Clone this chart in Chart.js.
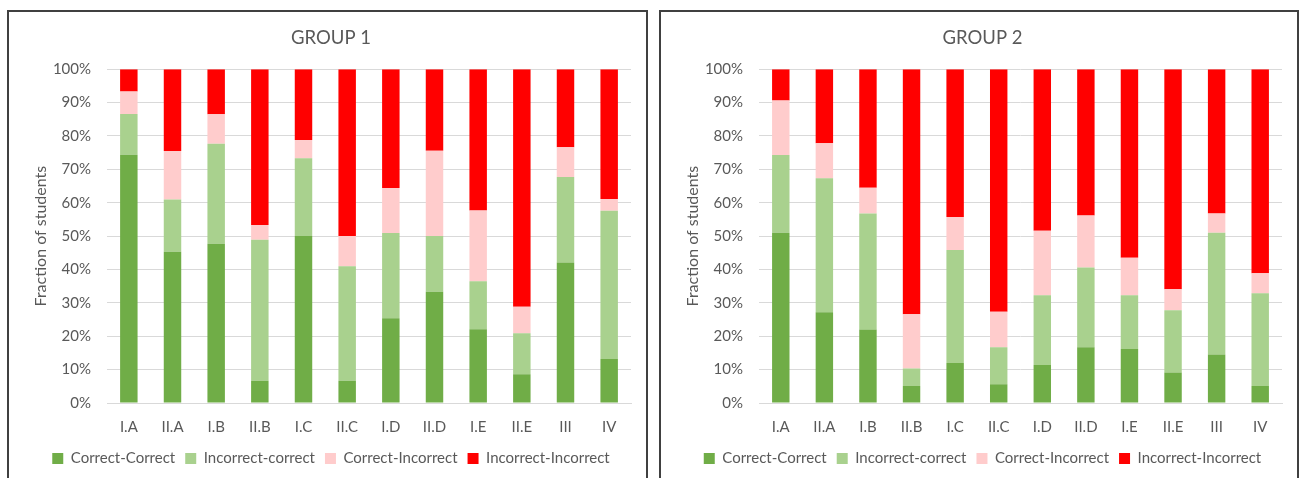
<!DOCTYPE html>
<html>
<head>
<meta charset="utf-8">
<script src="https://cdn.jsdelivr.net/npm/chart.js@4"></script>
<style>
  body { margin: 0; background: #fff; width: 1301px; height: 478px; overflow: hidden; position: relative; }
  .panel { position: absolute; top: 10px; height: 480px; border: 2px solid #404040; border-bottom: none; background: #fff; }
  #p1 { left: 7px; width: 637px; }
  #p2 { left: 659px; width: 636px; }
  canvas { display: block; }
</style>
</head>
<body>
<div class="panel" id="p1"><canvas id="chart1" width="637" height="466"></canvas></div>
<div class="panel" id="p2"><canvas id="chart2" width="636" height="466"></canvas></div>
<script>
var categories = ["I.A", "II.A", "I.B", "II.B", "I.C", "II.C", "I.D", "II.D", "I.E", "II.E", "III", "IV"];
var seriesNames = ["Correct-Correct", "Incorrect-correct", "Correct-Incorrect", "Incorrect-Incorrect"];
var seriesColors = ["#70ad47", "#a9d18e", "#ffcccc", "#ff0000"];
var yTicks = [0, 10, 20, 30, 40, 50, 60, 70, 80, 90, 100];

// group 1 (percent of students)
var g1CorrectCorrect     = [74.4, 45.3, 47.7, 6.7, 50.0, 6.7, 25.4, 33.3, 22.1, 8.6, 42.1, 13.2];
var g1IncorrectCorrect   = [12.2, 15.7, 30.0, 42.2, 23.3, 34.3, 25.5, 16.7, 14.4, 12.3, 25.6, 44.4];
var g1CorrectIncorrect   = [6.7, 14.5, 8.8, 4.4, 5.5, 9.0, 13.5, 25.6, 21.2, 7.9, 8.9, 3.5];
var g1IncorrectIncorrect = [6.7, 24.5, 13.5, 46.7, 21.2, 50.0, 35.6, 24.4, 42.3, 71.2, 23.4, 38.9];

// group 2
var g2CorrectCorrect     = [51.0, 27.2, 22.0, 5.1, 12.0, 5.6, 11.4, 16.7, 16.2, 9.1, 14.5, 5.1];
var g2IncorrectCorrect   = [23.3, 40.1, 34.8, 5.2, 33.8, 11.1, 20.9, 23.9, 16.1, 18.7, 36.5, 27.8];
var g2CorrectIncorrect   = [16.3, 10.5, 7.7, 16.3, 9.9, 10.6, 19.3, 15.6, 11.2, 6.3, 5.8, 6.0];
var g2IncorrectIncorrect = [9.4, 22.2, 35.5, 73.4, 44.3, 72.7, 48.4, 43.8, 56.5, 65.9, 43.2, 61.1];

var txt = "#595959";
var fontFam = "Lato, 'Open Sans', sans-serif";

function makeChart(id, title, series) {
  new Chart(id, {
    type: "bar",
    data: {
      labels: categories,
      datasets: series.map(function (vals, i) {
        return {
          label: seriesNames[i],
          data: vals,
          backgroundColor: seriesColors[i],
          borderWidth: 0,
          barPercentage: 0.4,
          categoryPercentage: 1
        };
      })
    },
    options: {
      responsive: false,
      animation: false,
      layout: { padding: { left: 22, right: 15, top: 10, bottom: 2 } },
      plugins: {
        title: {
          display: true,
          text: title,
          color: txt,
          font: { family: fontFam, size: 18.5, weight: "normal" },
          padding: { top: 5, bottom: 20 }
        },
        legend: {
          position: "bottom",
          labels: {
            color: txt,
            font: { family: fontFam, size: 15 },
            boxWidth: 11,
            boxHeight: 11,
            padding: 10
          }
        },
        tooltip: { enabled: false }
      },
      scales: {
        x: {
          stacked: true,
          grid: { display: false, drawTicks: false },
          border: { color: "#d9d9d9", width: 1 },
          ticks: { color: txt, font: { family: fontFam, size: 15 }, padding: 15 },
          afterFit: function (s) { s.height = 38; }
        },
        y: {
          stacked: true,
          min: 0,
          max: 100,
          afterBuildTicks: function (s) { s.ticks = yTicks.map(function (v) { return { value: v }; }); },
          grid: { color: "#d9d9d9", drawTicks: false },
          border: { display: false },
          ticks: {
            color: txt,
            font: { family: fontFam, size: 15 },
            padding: 16,
            callback: function (v) { return v + "%"; }
          },
          title: {
            display: true,
            text: "Fraction of students",
            color: txt,
            font: { family: fontFam, size: 16 },
            padding: 0
          },
          afterFit: function (s) { s.width = 76; }
        }
      }
    }
  });
}

makeChart("chart1", "GROUP 1", [g1CorrectCorrect, g1IncorrectCorrect, g1CorrectIncorrect, g1IncorrectIncorrect]);
makeChart("chart2", "GROUP 2", [g2CorrectCorrect, g2IncorrectCorrect, g2CorrectIncorrect, g2IncorrectIncorrect]);
</script>
</body>
</html>
